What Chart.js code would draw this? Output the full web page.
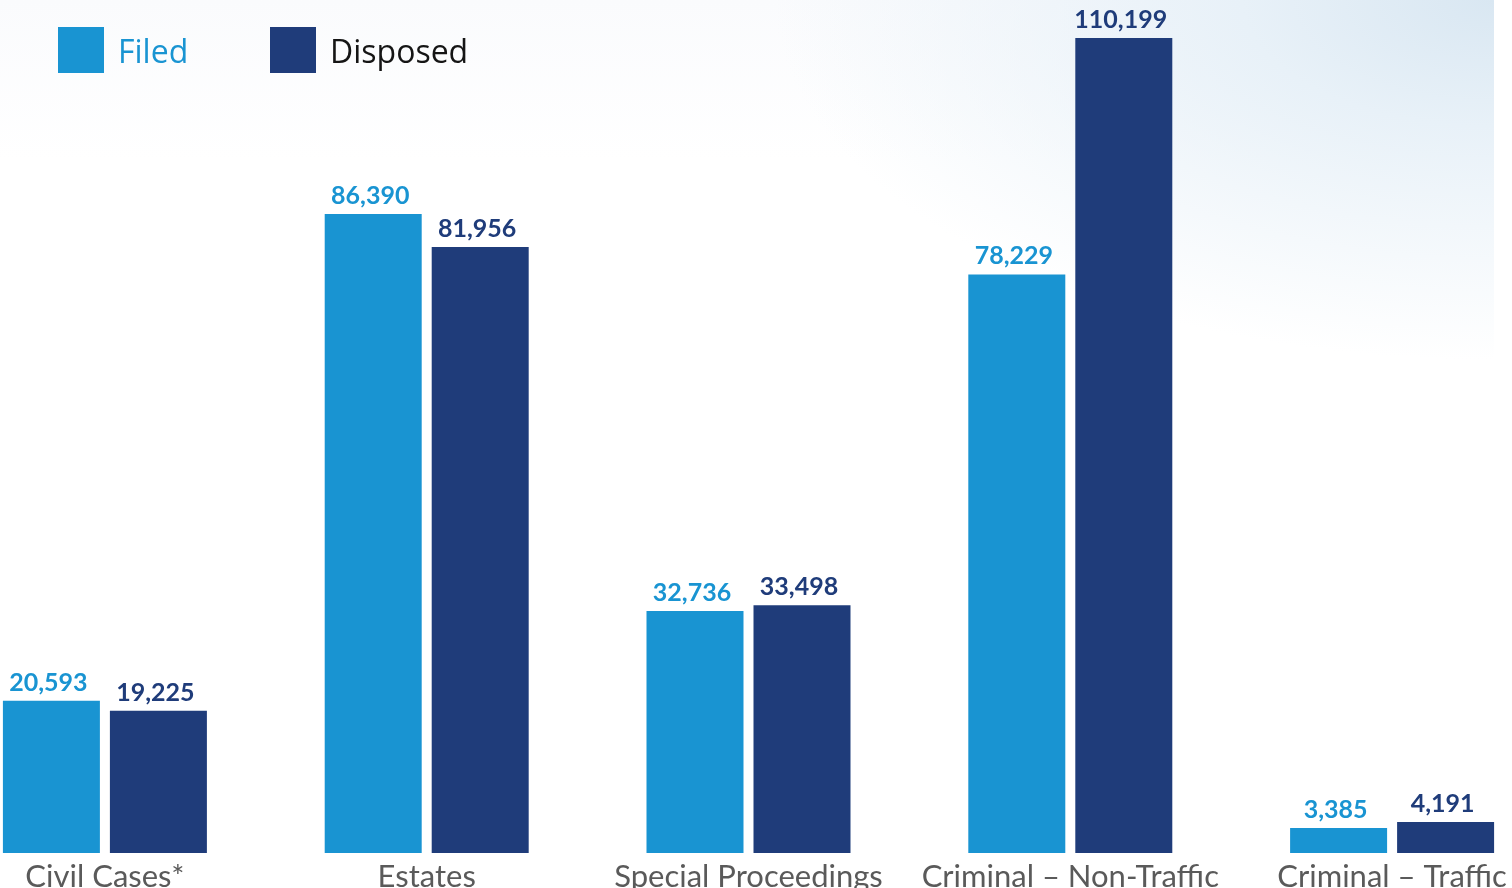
<!DOCTYPE html>
<html>
<head>
<meta charset="utf-8">
<script src="https://cdn.jsdelivr.net/npm/chart.js@4.4.1/dist/chart.umd.min.js"></script>
<style>
    body { margin: 0; width: 1512px; height: 888px; overflow: hidden; background: #ffffff; position: relative; }
    #bg { position: absolute; left: 0; top: 0; width: 1494px; height: 888px;
          background: radial-gradient(ellipse 720px 360px at 100% 0%, #d9e7f2 0%, #e8f1f8 35%, rgba(255,255,255,0) 100%),
                      linear-gradient(180deg, #fafbfd 0%, #ffffff 18%); }
    #chartBox { position: absolute; left: -56px; top: 0; }
    .legend { position: absolute; top: 27px; height: 46px; display: flex; align-items: center;
              font-family: "Open Sans", sans-serif; font-size: 32px; }
    .legendBox { width: 46px; height: 46px; margin-right: 14px; }
</style>
</head>
<body>
<div id="bg"></div>
<div id="chartBox"><canvas id="myChart" width="1609" height="888"></canvas></div>
<div class="legend" style="left:58px; color:#1994d2;"><div class="legendBox" style="background:#1994d2;"></div>Filed</div>
<div class="legend" style="left:270px; color:#151515;"><div class="legendBox" style="background:#1f3c7a;"></div>Disposed</div>

<script>
const categories = ['Civil Cases*', 'Estates', 'Special Proceedings', 'Criminal – Non-Traffic', 'Criminal – Traffic'];
const filed = [20593, 86390, 32736, 78229, 3385];
const disposed = [19225, 81956, 33498, 110199, 4191];

const filedColor = '#1994d2';
const disposedColor = '#1f3c7a';

// writes the value above each bar
const valueLabels = {
    id: 'valueLabels',
    afterDatasetsDraw(chart) {
        const ctx = chart.ctx;
        chart.data.datasets.forEach((ds, i) => {
            chart.getDatasetMeta(i).data.forEach((bar, j) => {
                ctx.save();
                ctx.font = 'bold 25px Lato';
                ctx.fillStyle = ds.backgroundColor;
                ctx.textAlign = 'center';
                ctx.textBaseline = 'alphabetic';
                ctx.fillText(ds.data[j].toLocaleString('en-US'), bar.x - 3, bar.y - 10);
                ctx.restore();
            });
        });
    }
};

new Chart(document.getElementById('myChart'), {
    type: 'bar',
    data: {
        labels: categories,
        datasets: [{
            label: 'Filed',
            data: filed,
            backgroundColor: filedColor,
            categoryPercentage: 0.665,
            barPercentage: 0.9065
        }, {
            label: 'Disposed',
            data: disposed,
            backgroundColor: disposedColor,
            categoryPercentage: 0.665,
            barPercentage: 0.9065
        }]
    },
    options: {
        responsive: false,
        animation: false,
        layout: { padding: 0 },
        plugins: {
            legend: { display: false },
            tooltip: { enabled: false }
        },
        scales: {
            x: {
                grid: { display: false, drawTicks: false },
                border: { display: false },
                ticks: {
                    color: '#5a5a5a',
                    font: { family: 'Lato', size: 31 },
                    padding: 5,
                    maxRotation: 0,
                    autoSkip: false
                },
                afterFit: (scale) => { scale.height = 35; }
            },
            y: {
                display: false,
                min: 0,
                max: 115340
            }
        }
    },
    plugins: [valueLabels]
});
</script>
</body>
</html>
